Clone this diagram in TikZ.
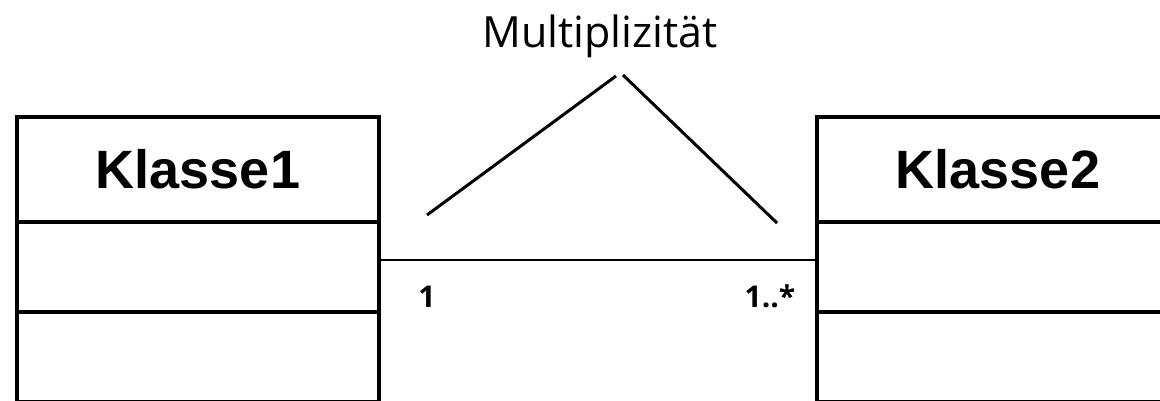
\documentclass[tikz,border=0pt]{standalone}
\usepackage{fontspec}
\setmainfont{Open Sans}
\newfontfamily\arialfont{Liberation Sans}
\usetikzlibrary{positioning}

\begin{document}
\begin{tikzpicture}[x=1pt, y=-1pt,
    every node/.style={inner sep=0pt, outer sep=0pt},
    kopf/.style={draw, line width=4pt, minimum width=362pt, minimum height=105pt, font=\arialfont\fontsize{54}{54}\selectfont\bfseries},
    fach/.style={draw, line width=4pt, minimum width=362pt, minimum height=90pt},
    mult/.style={anchor=base, font=\fontsize{30}{30}\selectfont\bfseries},
    zeiger/.style={line width=3pt}
  ]
  \useasboundingbox (0,0) rectangle (1160,400);
  \clip (0,0) rectangle (1160,400);
  % Klassen
  \node[kopf] (k1) at (198,169.5) {Klasse1};
  \node[fach, below=0pt of k1] (k1a) {};
  \node[fach, below=0pt of k1a] (k1b) {};
  \node[kopf] (k2) at (998,169.5) {Klasse2};
  \node[fach, below=0pt of k2] (k2a) {};
  \node[fach, below=0pt of k2a] (k2b) {};
  % Assoziation
  \draw[line width=2.5pt] ([yshift=7pt]k1a.east) -- ([yshift=7pt]k2a.west);
  \node[mult] (m1) at (427,307) {1};
  \node[mult] (m2) at (770,307) {1..*};
  % Beschriftung
  \node[anchor=base, font=\fontsize{43}{43}\selectfont] (titel) at (600,47) {Multiplizität};
  \coordinate (spitzeL) at (616,76);
  \coordinate (spitzeR) at (623,75);
  \coordinate (endeL) at (427,215);
  \coordinate (endeR) at (777,223);
  \draw[zeiger] (endeL) -- (spitzeL);
  \draw[zeiger] (spitzeR) -- (endeR);
\end{tikzpicture}
\end{document}
